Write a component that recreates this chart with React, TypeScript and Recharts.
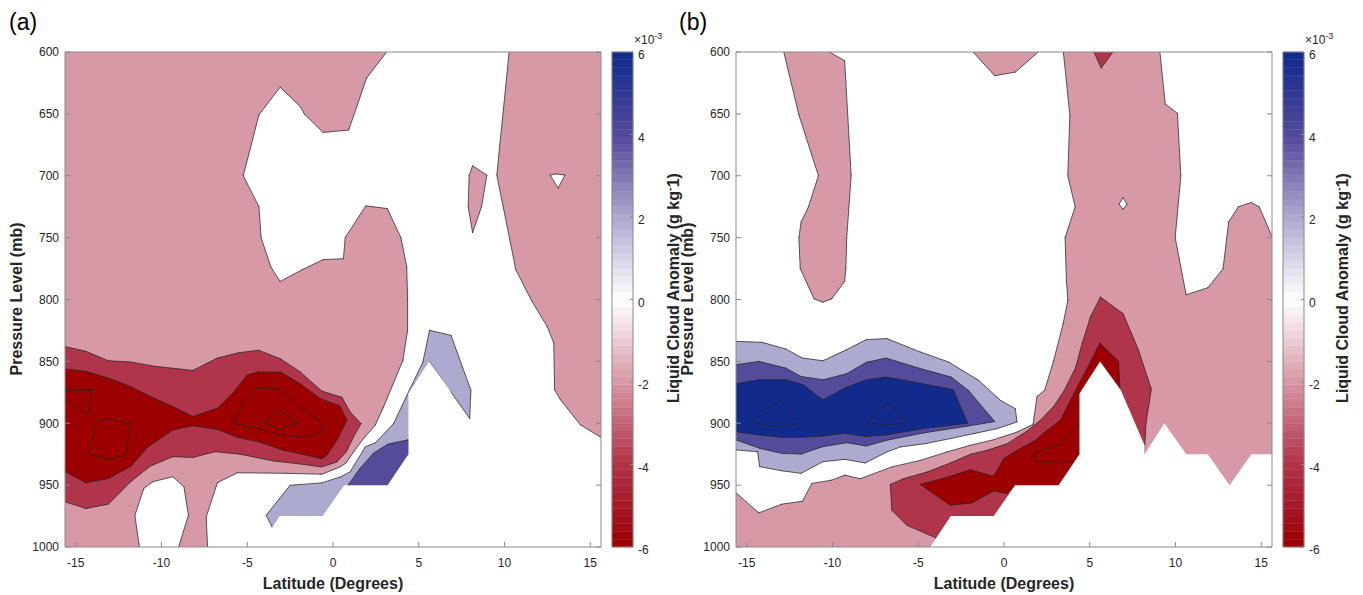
import React from 'react';
import { ComposedChart, Scatter, XAxis, YAxis, ReferenceArea } from 'recharts';

type Pt = [number, number];

// ---------- axes ----------
const latDomain: [number, number] = [-15.625, 15.625];
const presDomain: [number, number] = [600, 1000];
const latTicks = [-15, -10, -5, 0, 5, 10, 15];
const presTicks = [600, 650, 700, 750, 800, 850, 900, 950, 1000];
const cbarDomain: [number, number] = [-6, 6];
const cbarTicks = [-6, -4, -2, 0, 2, 4, 6];

// ---------- colormap anchors (x10^-3 g/kg) ----------
const cmapValues = [-6, -5, -4, -3, -2, -1, 0, 1, 2, 3, 4, 5, 6];
const cmapRGB: [number, number, number][] = [
  [156, 0, 0], [166, 26, 42], [176, 52, 74], [196, 102, 119], [216, 153, 166], [236, 205, 211],
  [255, 255, 255], [214, 213, 231], [172, 170, 207], [128, 122, 181], [84, 75, 155], [50, 58, 147], [18, 42, 140],
];
const cbarSteps = 64;

// ---------- topography mask (no data) ----------
const topo_mask: Pt[] = [
  [-4.3, 1000], [-3.1, 975], [-0.6, 975], [0.65, 950], [3.18, 950], [4.4, 925], [4.4, 876], [5.6, 850],
  [6.8, 873], [8.2, 918], [8.2, 925], [9.35, 900], [10.62, 925], [11.88, 925], [13.15, 950], [14.42, 925],
  [15.625, 925], [15.625, 1000],
];

// ---------- panel (a) contour regions ----------
const a_pink_main: Pt[] = [
  [-15.625, 600], [3.13, 600], [1.96, 621], [0.92, 663], [0.61, 663.5], [-0.58, 665], [-1.68, 650], [-1.88, 644.6],
  [-3.08, 628.4], [-4.32, 650.8], [-5.23, 700], [-4.32, 725], [-4.19, 750], [-3.62, 773.8], [-3.08, 785.4],
  [-1.81, 776], [-0.58, 767.8], [0.61, 767], [0.71, 750], [1.91, 724.3], [3.16, 726.5], [3.96, 750], [4.3, 773.8],
  [4.35, 800], [4.35, 824.9], [4.08, 849.1], [3.43, 870.7], [2.95, 886.8], [2.46, 901.6], [1.78, 912.4],
  [1.2, 923.2], [0.77, 932], [0.42, 935.3], [-0.65, 941.2], [-2.71, 940.5], [-5.57, 940], [-6.74, 948.1],
  [-7.39, 975.7], [-7.31, 1000], [-9.0, 1000], [-8.43, 974.3], [-8.69, 951.4], [-9.34, 943.2], [-10.51, 947.3],
  [-11.03, 952.7], [-11.55, 974.3], [-11.29, 1000], [-15.625, 1000],
];
const a_pink_east: Pt[] = [
  [10.27, 600], [15.625, 600], [15.625, 911.4], [14.43, 901.4], [13.26, 881], [12.92, 873], [12.87, 835],
  [12.48, 821.6], [11.57, 800.8], [10.66, 776], [9.55, 699.5],
];
const a_hole_east: Pt[] = [[12.66, 699.5], [13.0, 698.5], [13.52, 699.5], [13.13, 710]];
const a_pink_sliver: Pt[] = [[8.14, 691.9], [8.97, 699.5], [8.66, 725], [8.14, 746], [7.88, 725], [7.94, 699.5]];
const a_red_mid: Pt[] = [
  [-15.625, 838], [-14.4, 841.9], [-13.1, 849.5], [-11.8, 850.5], [-10.38, 854], [-8.17, 857.3], [-6.74, 847.3],
  [-5.5, 843], [-4.34, 841], [-3.08, 847.8], [-1.91, 858.5], [-0.65, 874], [0.52, 879], [1.0, 890.9],
  [1.63, 900.3], [1.2, 911], [0.77, 923.2], [0.23, 931.3], [-0.65, 935.3], [-2.11, 932.6], [-3.47, 930.5],
  [-5.41, 925], [-6.87, 923], [-8.17, 927.6], [-9.34, 927], [-10.64, 934.6], [-11.8, 947.3], [-13.1, 965.4],
  [-14.4, 968.9], [-15.625, 963.5],
];
const a_red_dark: Pt[] = [
  [-15.625, 856.2], [-14.4, 858], [-13.1, 863.5], [-11.8, 870.3], [-10.64, 878.4], [-9.34, 886.5], [-8.17, 894.6],
  [-6.74, 887.8], [-5.8, 875], [-5.0, 861], [-4.34, 858.5], [-3.08, 858.5], [-1.91, 868], [-0.75, 880],
  [0.4, 886], [0.81, 897.6], [0.23, 913.7], [-0.36, 925.9], [-0.65, 928.6], [-2.89, 921.8], [-4.34, 915],
  [-5.57, 911.4], [-6.74, 905], [-8.17, 902], [-9.34, 905.4], [-10.77, 918.9], [-11.8, 935], [-13.1, 944.6],
  [-14.4, 948.1], [-15.625, 939],
];
const a_red_c1: Pt[] = [[-15.625, 873.5], [-14.01, 873.5], [-14.32, 892.7], [-15.625, 879.7]];
const a_red_c2: Pt[] = [[-13.75, 898.6], [-13.1, 896.5], [-11.8, 900], [-12.06, 925.7], [-13.1, 929.2], [-14.27, 924.9]];
const a_red_c3: Pt[] = [
  [-5.83, 900], [-5.18, 882.4], [-4.4, 871.6], [-3.1, 872.4], [-1.68, 889.2], [-0.58, 900.5], [-0.64, 906.8],
  [-1.68, 911.4], [-3.1, 909.5], [-4.4, 904],
];
const a_red_c4: Pt[] = [[-4.05, 899.6], [-3.1, 889.3], [-2.0, 899.6], [-3.1, 904.2]];
const a_lav: Pt[] = [
  [5.63, 824.9], [6.88, 828.9], [8.04, 873.3], [7.97, 896.2], [5.63, 850.5], [5.2, 878], [4.6, 940], [2.0, 965],
  [0.0, 986], [-3.3, 992], [-3.57, 983.2], [-3.9, 974.4], [-2.5, 950.1], [-0.65, 948.2], [0.42, 943.4],
  [1.0, 939.3], [1.88, 919.1], [2.46, 915.9], [3.53, 900.3], [4.31, 877.4], [5.24, 850.5],
];
const a_blue_mid: Pt[] = [
  [0.92, 949.2], [1.57, 936.5], [2.35, 924.3], [3.21, 916.8], [4.35, 913.5], [4.7, 912], [4.7, 940], [2.5, 965], [0.7, 955],
];

// ---------- panel (b) contour regions ----------
const b_pink_west: Pt[] = [
  [-12.84, 600], [-10.18, 600], [-9.29, 607], [-8.91, 700], [-9.17, 750], [-9.22, 775.1], [-9.29, 785.4],
  [-10.05, 799.5], [-10.56, 802.2], [-11.07, 799.5], [-11.88, 775.1], [-11.96, 750], [-11.83, 737.3],
  [-11.4, 725.1], [-10.82, 700], [-11.96, 650.8],
];
const b_pink_top: Pt[] = [[-1.81, 600], [1.99, 600], [0.67, 616.2], [-0.54, 619.2]];
const b_pink_main: Pt[] = [
  [3.46, 600], [9.09, 600], [9.4, 641.9], [10.11, 649.5], [10.31, 700], [9.98, 750], [10.62, 796.2], [11.88, 790.5],
  [12.77, 775.1], [13.1, 737.3], [13.66, 725.1], [14.42, 721.6], [14.88, 725.1], [15.625, 749], [15.625, 1000],
  [-15.625, 1000], [-15.625, 956.2], [-14.29, 972.4], [-12.97, 965.4], [-11.75, 963], [-11.2, 948.6],
  [-10.05, 946], [-9.29, 941.9], [-8.39, 944.8], [-6.54, 935.3], [-4.88, 930], [-3.33, 923.2], [-1.96, 917.8],
  [-0.6, 913.3], [0.76, 907.1], [1.69, 900.9], [1.93, 878.2], [2.37, 873.4], [2.9, 849.1], [3.45, 819.5],
  [3.72, 800.7], [3.64, 784.5], [3.56, 750], [4.15, 725.1], [3.72, 700], [3.84, 650.8],
];
const b_hole_col: Pt[] = [[6.94, 717.6], [7.17, 723], [6.94, 727], [6.71, 723]];
const b_red_top: Pt[] = [[5.24, 600], [6.35, 600], [5.67, 613]];
const b_red_mid: Pt[] = [
  [5.62, 798], [6.94, 811.4], [7.83, 840.5], [8.59, 872.4], [8.28, 900], [8.21, 917.6], [8.125, 940], [-3.5, 1000],
  [-4.01, 992.4], [-5.66, 982.5], [-6.54, 970.4], [-6.63, 949.4], [-5.86, 944.8], [-4.49, 939.4], [-3.13, 932.1],
  [-1.96, 925.1], [-0.99, 921.9], [0.18, 916.5], [1.34, 906.3], [2.12, 897.6], [2.9, 886.3], [3.52, 873.4],
  [4.17, 855.1], [4.55, 835.7], [5.04, 814.1],
];
const b_red_dark: Pt[] = [
  [5.59, 835.1], [6.68, 850], [6.76, 871.6], [7.0, 905], [4.5, 950], [1.5, 965], [0.5, 951.5], [0.18, 956.9],
  [-0.6, 954.7], [-1.87, 964.4], [-3.13, 966.3], [-4.88, 949.4], [-3.13, 942.9], [-1.96, 937.5], [-0.6, 942.9],
  [-0.02, 928.6], [0.76, 921.9], [1.83, 913.8], [2.51, 905.7], [3.29, 897.6], [4.07, 876.1], [5.04, 850.5],
];
const b_red_c1: Pt[] = [[1.75, 924.6], [3.29, 917], [4.6, 898], [4.6, 930], [3.09, 931.3], [1.93, 931.3]];
const b_lav: Pt[] = [
  [-15.625, 833.8], [-14.11, 834.6], [-12.72, 840], [-11.75, 847.3], [-10.56, 849.5], [-9.17, 840.5],
  [-8.03, 832.4], [-6.83, 831.6], [-4.88, 842.4], [-3.23, 850.5], [-1.48, 865.3], [-0.21, 881.5], [0.66, 888.2],
  [0.76, 899], [-0.41, 904.4], [-1.77, 908.4], [-3.13, 912.4], [-4.59, 916.5], [-6.05, 919.2], [-6.83, 923.2],
  [-8.09, 932.1], [-9.29, 929.2], [-10.56, 931.1], [-11.83, 940.5], [-12.97, 938.4], [-14.24, 935.1],
  [-14.37, 923], [-15.625, 921.6],
];
const b_blue_mid: Pt[] = [
  [-15.625, 852.7], [-14.29, 850], [-12.72, 855.4], [-11.83, 862.2], [-10.56, 864.9], [-9.17, 860], [-8.03, 850.8],
  [-6.88, 847.3], [-4.98, 855.4], [-3.08, 862.7], [-2.07, 873.5], [-0.54, 898.6], [-2.07, 902.2], [-4.6, 907.6],
  [-6.76, 913.5], [-8.03, 918.4], [-9.17, 915.7], [-10.56, 918.9], [-11.83, 924.9], [-12.97, 924.3],
  [-14.24, 920.3], [-15.625, 913.5],
];
const b_blue_dark: Pt[] = [
  [-15.625, 868.1], [-14.29, 864.9], [-12.72, 864.9], [-11.7, 868.9], [-10.56, 881.1], [-9.17, 870.8],
  [-8.03, 864.9], [-6.88, 862.7], [-5.11, 867], [-2.95, 873], [-2.12, 900], [-4.6, 904.1], [-6.88, 909.5],
  [-8.03, 910.8], [-9.29, 908.1], [-10.56, 910.3], [-11.83, 911.4], [-12.97, 911.4], [-14.24, 909.5],
  [-15.625, 906.8],
];
const b_blue_c1: Pt[] = [[-14.62, 899.5], [-14.29, 891.4], [-13.02, 881.6], [-11.75, 899.5], [-13.1, 903.2]];
const b_blue_c2: Pt[] = [[-8.03, 899.5], [-6.76, 883.2], [-5.67, 899.5], [-6.88, 901.6]];

type Layer = { pts: Pt[]; level: number; mask?: boolean };
const panelA: Layer[] = [
  { pts: a_pink_main, level: -2 }, { pts: a_pink_east, level: -2 }, { pts: a_hole_east, level: 0 },
  { pts: a_pink_sliver, level: -2 }, { pts: a_red_mid, level: -4 }, { pts: a_red_dark, level: -6 },
  { pts: a_red_c1, level: -6 }, { pts: a_red_c2, level: -6 }, { pts: a_red_c3, level: -6 }, { pts: a_red_c4, level: -6 },
  { pts: a_lav, level: 2 }, { pts: a_blue_mid, level: 4 }, { pts: topo_mask, level: 0, mask: true },
];
const panelB: Layer[] = [
  { pts: b_pink_west, level: -2 }, { pts: b_pink_top, level: -2 }, { pts: b_pink_main, level: -2 },
  { pts: b_hole_col, level: 0 }, { pts: b_red_top, level: -4 }, { pts: b_red_mid, level: -4 },
  { pts: b_red_dark, level: -6 }, { pts: b_red_c1, level: -6 }, { pts: b_lav, level: 2 },
  { pts: b_blue_mid, level: 4 }, { pts: b_blue_dark, level: 6 }, { pts: b_blue_c1, level: 6 },
  { pts: b_blue_c2, level: 6 }, { pts: topo_mask, level: 0, mask: true },
];

// ---------- styling ----------
const FONT = '"Liberation Sans", Arial, Helvetica, sans-serif';
const CONTOUR = '#262626';
const AXC = '#8a8a8a';
const TXT = '#262626';
const TL = 5;
const XM = 11;
const YM = 6;
const CH = 595;
const PLOT_TOP = 52;
const PLOT_BOTTOM = 547;
const PLOT_W = 536;
const CB_W = 21;
const AX = 1; // thickness reserved for each axis (must be > 0 for Recharts to draw it)

function cmap(v: number): string {
  const n = cmapValues.length;
  let c = cmapRGB[0];
  if (v >= cmapValues[n - 1]) c = cmapRGB[n - 1];
  else if (v > cmapValues[0]) {
    for (let i = 0; i < n - 1; i++) {
      if (v <= cmapValues[i + 1]) {
        const t = (v - cmapValues[i]) / (cmapValues[i + 1] - cmapValues[i]);
        const a = cmapRGB[i], b = cmapRGB[i + 1];
        c = [a[0] + (b[0] - a[0]) * t, a[1] + (b[1] - a[1]) * t, a[2] + (b[2] - a[2]) * t];
        break;
      }
    }
  }
  return `rgb(${Math.round(c[0])},${Math.round(c[1])},${Math.round(c[2])})`;
}

const EPS = 1e-6;
function onSameFrameSide(p: Pt, q: Pt): boolean {
  const s = (a: number, b: number) => Math.abs(a - b) < EPS;
  return (s(p[0], latDomain[0]) && s(q[0], latDomain[0])) || (s(p[0], latDomain[1]) && s(q[0], latDomain[1])) ||
    (s(p[1], presDomain[0]) && s(q[1], presDomain[0])) || (s(p[1], presDomain[1]) && s(q[1], presDomain[1]));
}

function PolyShape(props: any) {
  const { points, src, polyFill, stroked } = props;
  if (!points || points.length < 3) return null;
  const d = points.map((p: any, i: number) => `${i ? 'L' : 'M'}${p.x},${p.y}`).join('') + 'Z';
  let s = '';
  if (stroked) {
    for (let i = 0; i < points.length; i++) {
      const j = (i + 1) % points.length;
      if (onSameFrameSide(src[i], src[j])) continue;
      s += `M${points[i].x},${points[i].y}L${points[j].x},${points[j].y}`;
    }
  }
  return (
    <g>
      <path d={d} fill={polyFill} stroke="none" />
      {s ? <path d={s} fill="none" stroke={CONTOUR} strokeWidth={0.75} strokeLinecap="round" strokeLinejoin="round" /> : null}
    </g>
  );
}

const noSymbol = () => <g />;

const tickStyle: React.CSSProperties = { fontFamily: FONT, fontSize: 12, fill: TXT };

const bottomTick = (p: any) => (
  <g>
    <line x1={p.x} x2={p.x} y1={p.y - XM} y2={p.y - XM - TL} stroke={AXC} />
    <text x={p.x} y={p.y} dy="0.71em" textAnchor="middle" style={tickStyle}>{p.payload.value}</text>
  </g>
);
const topTick = (p: any) => <line x1={p.x} x2={p.x} y1={p.y} y2={p.y + TL} stroke={AXC} />;
const leftTick = (p: any) => (
  <g>
    <line x1={p.x + YM} x2={p.x + YM + TL} y1={p.y} y2={p.y} stroke={AXC} />
    <text x={p.x} y={p.y} dy="0.355em" textAnchor="end" style={tickStyle}>{p.payload.value}</text>
  </g>
);
const rightTick = (p: any) => <line x1={p.x} x2={p.x - TL} y1={p.y} y2={p.y} stroke={AXC} />;
const cbarTick = (p: any) => (
  <g>
    <line x1={p.x - 5} x2={p.x - 8} y1={p.y} y2={p.y} stroke={AXC} />
    <text x={p.x} y={p.y + 3} dy="0.355em" textAnchor="start" style={tickStyle}>{p.payload.value}</text>
  </g>
);

function ContourPanel({ left, chartW, marginLeft, layers }: { left: number; chartW: number; marginLeft: number; layers: Layer[] }) {
  return (
    <div style={{ position: 'absolute', left, top: 0 }}>
      <ComposedChart
        width={chartW}
        height={CH}
        margin={{ top: PLOT_TOP - AX, bottom: CH - PLOT_BOTTOM - AX, left: marginLeft - AX, right: chartW - marginLeft - PLOT_W - AX }}
      >
        {layers.map((l, i) => (
          <Scatter
            key={i}
            data={l.pts.map(([x, y]) => ({ x, y }))}
            shape={noSymbol}
            lineType="joint"
            line={<PolyShape src={l.pts} polyFill={l.mask ? '#ffffff' : cmap(l.level)} stroked={!l.mask} />}
            isAnimationActive={false}
            legendType="none"
          />
        ))}
        <XAxis dataKey="x" type="number" domain={latDomain} ticks={latTicks} interval={0} allowDataOverflow
          height={AX} tickSize={0} tickMargin={XM} tickLine={false} axisLine={{ stroke: AXC }} tick={bottomTick} zIndex={900} />
        <XAxis xAxisId="top" orientation="top" type="number" domain={latDomain} ticks={latTicks} interval={0} allowDataOverflow
          height={AX} tickSize={0} tickMargin={0} tickLine={false} axisLine={{ stroke: AXC }} tick={topTick} zIndex={900} />
        <YAxis dataKey="y" type="number" domain={presDomain} reversed ticks={presTicks} interval={0} allowDataOverflow
          width={AX} tickSize={0} tickMargin={YM} tickLine={false} axisLine={{ stroke: AXC }} tick={leftTick} zIndex={900} />
        <YAxis yAxisId="right" orientation="right" type="number" domain={presDomain} reversed ticks={presTicks} interval={0}
          allowDataOverflow width={AX} tickSize={0} tickMargin={0} tickLine={false} axisLine={{ stroke: AXC }} tick={rightTick} zIndex={900} />
      </ComposedChart>
    </div>
  );
}

const cbarBands = Array.from({ length: cbarSteps }, (_, k) => {
  const lo = cbarDomain[0] + (k * (cbarDomain[1] - cbarDomain[0])) / cbarSteps;
  const hi = cbarDomain[0] + ((k + 1) * (cbarDomain[1] - cbarDomain[0])) / cbarSteps;
  const c = cmap(cbarDomain[0] + (k / (cbarSteps - 1)) * (cbarDomain[1] - cbarDomain[0]));
  return { lo, hi, c };
});

function ColorBar({ left, marginLeft }: { left: number; marginLeft: number }) {
  const w = 72;
  return (
    <div style={{ position: 'absolute', left, top: 0 }}>
      <ComposedChart width={w} height={CH}
        margin={{ top: PLOT_TOP - AX, bottom: CH - PLOT_BOTTOM - AX, left: marginLeft - AX, right: w - marginLeft - CB_W - AX }}>
        {cbarBands.map((b, i) => (
          <ReferenceArea key={i} x1={0} x2={1} y1={b.lo} y2={b.hi} fill={b.c} fillOpacity={1} stroke={b.c} strokeWidth={0.4} ifOverflow="visible" />
        ))}
        <XAxis dataKey="x" type="number" domain={[0, 1]} allowDataOverflow height={AX} tick={false} tickLine={false} axisLine={{ stroke: AXC }} zIndex={900} />
        <XAxis xAxisId="top" orientation="top" type="number" domain={[0, 1]} allowDataOverflow height={AX} tick={false} tickLine={false} axisLine={{ stroke: AXC }} zIndex={900} />
        <YAxis dataKey="y" orientation="right" type="number" domain={cbarDomain} ticks={cbarTicks} interval={0} allowDataOverflow
          width={AX} tickSize={0} tickMargin={5} tickLine={false} axisLine={{ stroke: AXC }} tick={cbarTick} zIndex={900} />
        <YAxis yAxisId="l" orientation="left" type="number" domain={cbarDomain} allowDataOverflow width={AX} tick={false} tickLine={false} axisLine={{ stroke: AXC }} zIndex={900} />
      </ComposedChart>
    </div>
  );
}

const titleStyle: React.CSSProperties = { fontFamily: FONT, fontSize: 16, fontWeight: 'bold', fill: TXT };

function CbarLabel({ x, y }: { x: number; y: number }) {
  return (
    <text x={x} y={y} transform={`rotate(-90 ${x} ${y})`} textAnchor="middle" style={titleStyle}>
      Liquid Cloud Anomaly (g kg<tspan dy={-6} fontSize={11}>-</tspan><tspan dy={6}>1)</tspan>
    </text>
  );
}

function Exponent({ x, y }: { x: number; y: number }) {
  return (
    <text x={x} y={y} style={{ fontFamily: FONT, fontSize: 12, fill: TXT }}>
      ×10<tspan dy={-5} fontSize={9}>-3</tspan>
    </text>
  );
}

export default function App() {
  return (
    <div style={{ position: 'absolute', left: 0, top: 0, width: 1363, height: 595, background: '#fff', overflow: 'hidden' }}>
      <svg width={1363} height={595} style={{ position: 'absolute', left: 0, top: 0 }}>
        <text x={9} y={30} style={{ fontFamily: FONT, fontSize: 23, fill: '#000' }}>(a)</text>
        <text x={679} y={30} style={{ fontFamily: FONT, fontSize: 23, fill: '#000' }}>(b)</text>
        <text x={333} y={589} textAnchor="middle" style={titleStyle}>Latitude (Degrees)</text>
        <text x={1004} y={589} textAnchor="middle" style={titleStyle}>Latitude (Degrees)</text>
        <text x={21.5} y={299} transform="rotate(-90 21.5 299)" textAnchor="middle" style={titleStyle}>Pressure Level (mb)</text>
        <text x={692.5} y={299} transform="rotate(-90 692.5 299)" textAnchor="middle" style={titleStyle}>Pressure Level (mb)</text>
        <CbarLabel x={679} y={288} />
        <CbarLabel x={1348} y={288} />
        <Exponent x={634} y={44} />
        <Exponent x={1305} y={44} />
      </svg>
      <ContourPanel left={0} chartW={640} marginLeft={65} layers={panelA} />
      <ContourPanel left={680} chartW={600} marginLeft={56} layers={panelB} />
      <ColorBar left={600} marginLeft={12} />
      <ColorBar left={1270} marginLeft={13} />
    </div>
  );
}
